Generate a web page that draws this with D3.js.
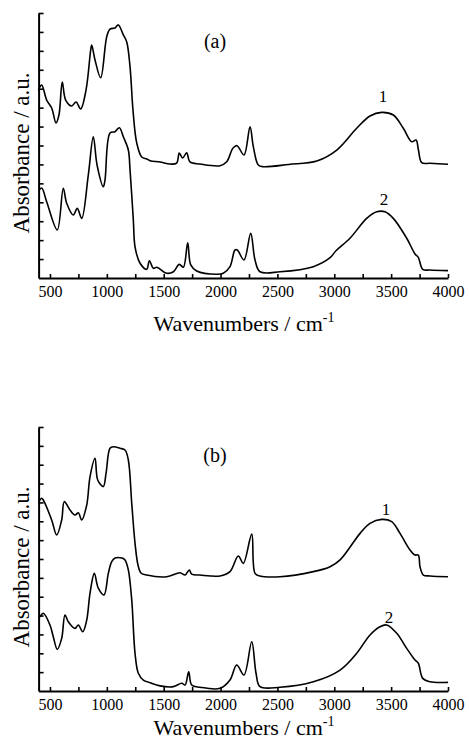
<!DOCTYPE html>
<html>
<head>
<meta charset="utf-8">
<script src="https://cdn.jsdelivr.net/npm/d3@7"></script>
<style>
  html, body { margin: 0; padding: 0; background: #fff; }
  svg { display: block; }
  svg text { font-family: "Liberation Serif", "Times New Roman", Times, "DejaVu Serif", serif !important; fill: #000; }
</style>
</head>
<body>
<svg width="469" height="740"></svg>
<script>
// spectra as [wavenumber, absorbance (a.u.)]
var spectrumA1 = [[400,9.9],[406,10.04],[427,10.2],[471,9.4],[515,8.98],[553,8.19],[579,8.61],[608,10.35],[638,9.4],[691,9.09],[729,9.3],[770,8.93],[817,9.93],[858,12.04],[867,12.31],[896,11.52],[946,10.58],[999,12.75],[1028,13.15],[1072,13.21],[1101,13.37],[1145,12.84],[1175,12.47],[1204,11.15],[1230,8.87],[1263,7.13],[1307,6.39],[1351,6.29],[1380,6.2],[1468,6.13],[1556,6.02],[1614,6.07],[1637,6.6],[1667,6.34],[1702,6.62],[1731,6.13],[1819,6.02],[1995,5.93],[2054,6.14],[2110,6.87],[2145,6.99],[2206,6.5],[2259,7.99],[2288,6.94],[2332,5.97],[2376,5.88],[2600,6.0],[2846,6.18],[3022,6.76],[3197,7.91],[3314,8.56],[3417,8.75],[3519,8.61],[3607,7.91],[3681,7.2],[3719,7.29],[3740,6.76],[3769,6.09],[3842,6.06],[4000,6.01]];
var spectrumA2 = [[400,4.6],[427,4.75],[471,4.03],[564,2.54],[617,4.74],[647,3.95],[705,3.33],[740,3.68],[779,3.15],[837,5.44],[881,7.46],[914,5.97],[969,4.82],[984,5.18],[1028,7.66],[1072,7.73],[1110,7.94],[1145,7.46],[1189,6.76],[1204,5.71],[1233,3.06],[1248,1.65],[1292,0.78],[1351,0.46],[1374,0.91],[1409,0.51],[1439,0.57],[1527,0.25],[1585,0.33],[1637,0.72],[1673,0.57],[1711,1.86],[1738,0.69],[1790,0.37],[1966,0.2],[2024,0.25],[2083,0.6],[2127,1.48],[2147,1.48],[2206,0.95],[2265,2.36],[2303,0.95],[2347,0.33],[2523,0.33],[2816,0.6],[2963,1.07],[3015,1.44],[3138,2.1],[3285,3.15],[3373,3.5],[3446,3.5],[3519,3.15],[3637,2.1],[3710,1.27],[3739,1.09],[3778,0.46],[3842,0.42],[4000,0.39]];
var spectrumB1 = [[400,10.0],[427,10.22],[441,10.13],[515,9.07],[559,8.27],[603,9.07],[626,10.04],[676,9.6],[720,9.33],[749,9.45],[779,9.07],[823,9.86],[852,11.36],[896,12.34],[920,11.19],[969,10.84],[993,11.54],[1028,12.87],[1057,12.95],[1116,12.87],[1160,12.78],[1189,12.25],[1219,9.95],[1248,7.83],[1274,6.68],[1300,6.26],[1351,6.15],[1527,6.06],[1644,6.27],[1688,6.15],[1725,6.42],[1746,6.2],[1819,6.15],[1995,6.1],[2083,6.33],[2156,7.16],[2200,6.77],[2274,8.32],[2303,6.24],[2347,6.1],[2523,6.06],[2816,6.33],[2963,6.59],[3051,6.95],[3227,8.36],[3314,8.89],[3417,9.1],[3505,8.98],[3578,8.36],[3666,7.48],[3710,7.21],[3739,7.21],[3754,6.59],[3783,6.15],[3842,6.1],[4000,6.06]];
var spectrumB2 = [[400,3.9],[412,3.94],[441,4.12],[500,3.5],[529,2.88],[564,2.21],[603,2.79],[632,4.03],[661,3.67],[720,3.32],[749,3.5],[788,3.14],[823,3.76],[852,5.18],[890,6.24],[925,5.45],[975,5.09],[1013,6.24],[1043,6.86],[1072,7.05],[1133,7.05],[1160,6.95],[1189,6.42],[1219,4.82],[1248,2.0],[1277,0.94],[1321,0.58],[1380,0.44],[1468,0.27],[1585,0.23],[1658,0.41],[1688,0.32],[1720,1.02],[1746,0.32],[1819,0.2],[1995,0.14],[2083,0.58],[2142,1.38],[2206,0.85],[2274,2.61],[2312,0.94],[2347,0.23],[2523,0.2],[2816,0.49],[3051,1.11],[3197,2.0],[3314,2.97],[3402,3.41],[3461,3.5],[3549,3.06],[3637,2.26],[3710,1.64],[3739,1.47],[3778,0.67],[3842,0.49],[4000,0.46]];

var xTickLabels = [500, 1000, 1500, 2000, 2500, 3000, 3500, 4000];
var xMinorTicks = d3.range(500, 4001, 250);
var yTicks = d3.range(1, 15);
var seriesNames = ['1', '2'];
var panelNames = ['(a)', '(b)'];

var svg = d3.select('svg');

var x = d3.scaleLinear().domain([400, 4000]).range([38.6, 448]);

var panels = [
    { name: panelNames[0], top: 13, bottom: 278, titleY: 331, data: [spectrumA1, spectrumA2], tag: [[383, 102], [384, 205]] },
    { name: panelNames[1], top: 427, bottom: 691, titleY: 735, data: [spectrumB1, spectrumB2], tag: [[386, 515], [389, 623]] }
];

panels.forEach(function (p) {
    var y = d3.scaleLinear().domain([0, 14]).range([p.bottom, p.top]);
    var g = svg.append('g');

    // curves
    var line = d3.line()
        .x(function (d) { return x(d[0]); })
        .y(function (d) { return y(d[1]); })
        .curve(d3.curveCatmullRom.alpha(0.5));
    p.data.forEach(function (s) {
        g.append('path')
            .attr('d', line(s))
            .attr('fill', 'none')
            .attr('stroke', '#000')
            .attr('stroke-width', 1.6)
            .attr('stroke-linejoin', 'round');
    });

    // y axis, inward ticks, no labels
    var yAxis = d3.axisRight(y).tickValues(yTicks).tickSize(5).tickSizeOuter(0).tickFormat('');
    g.append('g')
        .attr('transform', 'translate(' + x.range()[0] + ',0)')
        .call(yAxis)
        .call(function (a) {
            a.select('.domain').attr('stroke-width', 2);
            a.selectAll('.tick line').attr('stroke-width', 1.6);
        });

    // x axis: minor ticks inward, labels every 500
    var xMinor = d3.axisTop(x).tickValues(xMinorTicks).tickSize(4).tickSizeOuter(0).tickFormat('');
    g.append('g')
        .attr('transform', 'translate(0,' + p.bottom + ')')
        .call(xMinor)
        .call(function (a) {
            a.select('.domain').attr('stroke-width', 2);
            a.selectAll('.tick line').attr('stroke-width', 1.6);
        });
    var xAxis = d3.axisBottom(x).tickValues(xTickLabels).tickSize(0).tickPadding(8).tickFormat(d3.format('d'));
    g.append('g')
        .attr('transform', 'translate(0,' + p.bottom + ')')
        .call(xAxis)
        .call(function (a) {
            a.attr('font-family', null);
            a.select('.domain').remove();
            a.selectAll('text')
                .attr('font-size', 16)
                .attr('fill', '#000');
        });

    // axis titles
    var xl = g.append('text')
        .attr('x', 244)
        .attr('y', p.titleY)
        .attr('text-anchor', 'middle')
        .attr('font-size', 22);
    xl.append('tspan').text('Wavenumbers / cm');
    xl.append('tspan').attr('dy', -9).attr('font-size', 14).text('-1');

    g.append('text')
        .attr('transform', 'translate(29,' + (p.top + 140) + ') rotate(-90)')
        .attr('text-anchor', 'middle')
        .attr('font-size', 23)
        .text('Absorbance / a.u.');

    // panel name and curve numbers
    g.append('text')
        .attr('x', 215)
        .attr('y', p.top + 35)
        .attr('text-anchor', 'middle')
        .attr('font-size', 20)
        .text(p.name);

    p.tag.forEach(function (t, i) {
        g.append('text')
            .attr('x', t[0])
            .attr('y', t[1])
            .attr('text-anchor', 'middle')
            .attr('font-size', 17)
            .text(seriesNames[i]);
    });
});
</script>
</body>
</html>
